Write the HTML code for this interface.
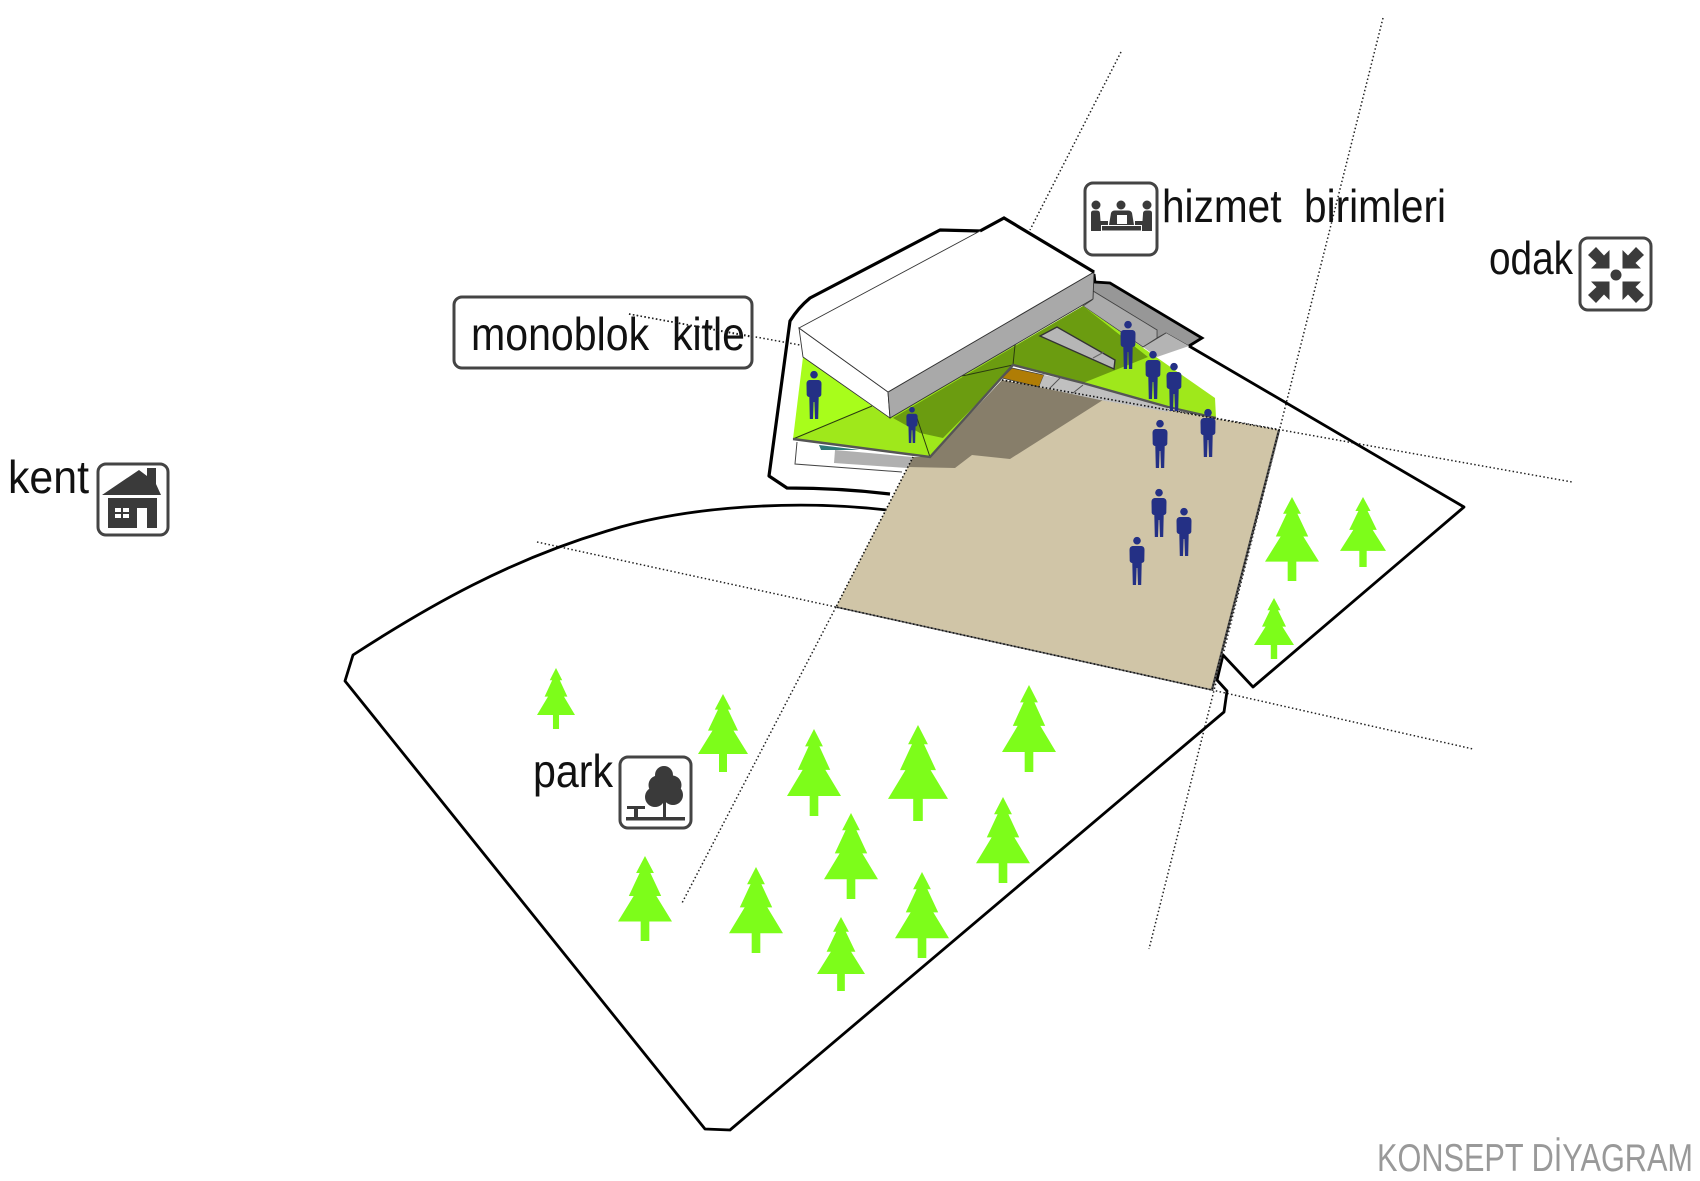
<!DOCTYPE html>
<html lang="tr">
<head>
<meta charset="utf-8">
<title>Konsept Diyagram</title>
<style>
html,body{margin:0;padding:0;background:#fff}
svg{display:block}
text{font-family:"Liberation Sans",sans-serif;fill:#111}
</style>
</head>
<body>
<svg width="1700" height="1181" viewBox="0 0 1700 1181" xmlns="http://www.w3.org/2000/svg">
<defs>
<g id="t"><polygon points="0,0 .33,.2 .2,.2 .6,.47 .42,.47 1,.77 .16,.77 .16,1 -.16,1 -.16,.77 -1,.77 -.42,.47 -.6,.47 -.2,.2 -.33,.2" fill="#7dfd1a"/></g>
<g id="p" fill="#243085">
<circle cx="0" cy="3.7" r="3.8"/>
<path d="M-4.5,9 Q-7.5,9.5 -7.5,13 L-7.3,24 Q-6.5,26 -4.7,26 L-4.2,48 L-1,48 L-.4,31 L.4,31 L1,48 L4.2,48 L4.7,26 Q6.5,26 7.3,24 L7.5,13 Q7.5,9.5 4.5,9 Z"/>
</g>
<path id="ar" fill="#3a3a3a" d="M-6.5,-6.5 L-6.5,-25 L-12,-19.5 L-20,-28 L-28,-20 L-19.5,-12 L-25,-6.5 Z"/>
</defs>

<!-- dotted axes -->
<g fill="none" stroke="#222" stroke-width="1.5" stroke-dasharray="1.5 2.4">
<line x1="1121" y1="52" x2="1030" y2="230"/>
<line x1="1383" y1="18" x2="1149" y2="949"/>
<line x1="629" y1="314" x2="800" y2="345"/>
<line x1="1002" y1="380" x2="1572" y2="482"/>
<line x1="537" y1="542" x2="836" y2="607"/>
<line x1="1212" y1="690" x2="1473" y2="749"/>
<line x1="836" y1="607" x2="682" y2="903"/>
</g>

<!-- site outlines -->
<g fill="none" stroke="#000" stroke-linejoin="round">
<path stroke-width="3.2" d="M980,231 L940,230 L810,298 Q798,308 790,321 L769,476 L787,488 Q840,488 890,494"/>
<path stroke-width="2.8" d="M887,510 C800,500 690,505 607,531 C510,560 430,605 353,655 L345,681 L705,1129 L730,1130 L1224,712 L1227,691 L1217,680 L1223,655 L1253,687 L1464,507 L1189,346"/>
</g>

<!-- under building -->
<polygon points="797,442 795,464 902,472 913,457" fill="#fff"/>
<path d="M797,442 L795,464 L902,472" fill="none" stroke="#444" stroke-width="1"/>
<polygon points="835,450 913,457 907,468 834,463" fill="#b0b0b0"/>
<polygon points="819,445 860,450 821,450" fill="#2f7a78"/>

<!-- terraces -->
<polygon points="1093,282 1110,283 1202,338 1189,346 1166,333 1157,338 1157,330 1093,291" fill="#979797" stroke="#333" stroke-width=".8"/>
<polygon points="1093,291 1157,330 1157,338 1143,347 1083,306 1092,300" fill="#ababab" stroke="#444" stroke-width=".8"/>
<polygon points="1143,347 1166,333 1189,346 1157,357" fill="#b4b4b4"/>
<path d="M1143,347 L1166,333" stroke="#444" stroke-width=".8" fill="none"/>
<path d="M1094,274 L1095,282 L1110,283 L1202,338 L1189,346" fill="none" stroke="#000" stroke-width="2.8"/>

<!-- green floors -->
<polygon points="1083,306 1215,398 1216,418 1168,407 1083,383 1013,365 1002,378 930,457 793,439 872,406 890,418" fill="#9fe81b"/>
<polygon points="803,357 872,406 793,439" fill="#a8fd1b"/>
<polygon points="893,418 1083,306 1148,357 1083,383 1013,365 1002,378 943,438 920,433" fill="#6b9c10"/>
<polygon points="1040,336 1057,327 1115,360 1114,369" fill="#b6b6b6" stroke="#333" stroke-width="1.4"/>
<path d="M1093,358 L1104,352" stroke="#666" stroke-width="1"/>
<g fill="none" stroke="#2a3a10" stroke-width="1">
<path d="M793,439 L872,406"/>
<path d="M917,418 L930,457"/>
<path d="M962,376 L1013,365 L1015,345"/>
</g>

<!-- roof volume -->
<polygon points="799,328 888,392 890,418 803,357" fill="#fff" stroke="#333" stroke-width=".9"/>
<polygon points="888,392 1094,272 1093,299 890,418" fill="#a9a9a9" stroke="#333" stroke-width=".9"/>
<polygon points="799,328 980,231 1004,218 1094,272 888,392" fill="#fff" stroke="#333" stroke-width=".9"/>
<path d="M980,231 L1004,218 L1094,272" fill="none" stroke="#000" stroke-width="3.2"/>

<!-- plaza -->
<polygon points="1002,380 1279,430 1212,690 836,607 913,457 930,457" fill="#d0c5a7"/>
<polygon points="1002,380 1103,400 1010,459 972,455 955,468 908,467 913,457 930,457" fill="#877e6a"/>
<polygon points="1012,368 1044,375 1039,387 1002,378" fill="#b07d05" stroke="#444" stroke-width=".8"/>
<polygon points="1044,375 1083,383 1168,407 1168,412 1100,400 1039,387" fill="#c0c0c0"/>
<path d="M1050,388 L1060,378 M1073,393 L1083,385" stroke="#555" stroke-width="1"/>
<g fill="none" stroke="#555" stroke-width="2.4">
<path d="M793,439 L930,457 L1013,365 L1083,383 L1168,407 L1216,418"/>
<path d="M1279,430 L1212,690"/>
</g>
<path d="M1212,690 L836,607" fill="none" stroke="#666" stroke-width="1.6"/>
<g fill="none" stroke="#111" stroke-width="1.6" stroke-dasharray="1.5 2.2">
<path d="M1002,380 L1279,430 L1212,690 L836,607 L913,457"/>
</g>

<!-- people -->
<use href="#p" transform="translate(1128,321)"/>
<use href="#p" transform="translate(1153,351)"/>
<use href="#p" transform="translate(1174,363)"/>
<use href="#p" transform="translate(814,371)"/>
<use href="#p" transform="translate(912,407) scale(.75)"/>
<use href="#p" transform="translate(1160,420)"/>
<use href="#p" transform="translate(1208,409)"/>
<use href="#p" transform="translate(1159,489)"/>
<use href="#p" transform="translate(1184,508)"/>
<use href="#p" transform="translate(1137,537)"/>

<!-- trees -->
<use href="#t" transform="translate(556,668) scale(19,61)"/>
<use href="#t" transform="translate(723,694) scale(25,78)"/>
<use href="#t" transform="translate(814,729) scale(27,87)"/>
<use href="#t" transform="translate(918,725) scale(30,96)"/>
<use href="#t" transform="translate(1029,685) scale(27,87)"/>
<use href="#t" transform="translate(645,856) scale(27,85)"/>
<use href="#t" transform="translate(756,867) scale(27,86)"/>
<use href="#t" transform="translate(851,813) scale(27,86)"/>
<use href="#t" transform="translate(922,872) scale(27,86)"/>
<use href="#t" transform="translate(1003,797) scale(27,86)"/>
<use href="#t" transform="translate(841,917) scale(24,74)"/>
<use href="#t" transform="translate(1292,497) scale(27,84)"/>
<use href="#t" transform="translate(1363,497) scale(23,70)"/>
<use href="#t" transform="translate(1274,598) scale(20,61)"/>

<!-- label boxes -->
<g fill="none" stroke="#444" stroke-width="3">
<rect x="454" y="297" width="298" height="71" rx="8"/>
<rect x="1085" y="183" width="72" height="72" rx="8" fill="#fff"/>
<rect x="1580" y="238" width="71" height="72" rx="8" fill="#fff"/>
<rect x="98" y="464" width="70" height="71" rx="8" fill="#fff"/>
<rect x="620" y="757" width="71" height="71" rx="8" fill="#fff"/>
</g>

<!-- hizmet icon -->
<g fill="#3a3a3a">
<circle cx="1096" cy="205" r="4.5"/><circle cx="1121" cy="205" r="4.5"/><circle cx="1147" cy="205" r="4.5"/>
<path d="M1091,213 Q1091,210.500 1094,210.500 L1097,210.500 Q1100,210.500 1100,214 L1100.500,221 L1108,221 L1108,225 L1101,225 L1101,231 L1091,231 Z"/>
<path d="M1152,213 Q1152,210.500 1149,210.500 L1146,210.500 Q1143,210.500 1143,214 L1142.500,221 L1135,221 L1135,225 L1142,225 L1142,231 L1152,231 Z"/>
<path d="M1109,225 L1111,213 Q1112,210.500 1115,210.500 L1128,210.500 Q1131,210.500 1132,213 L1134,225 Z"/>
<rect x="1102" y="226" width="39" height="4.500"/>
</g>
<rect x="1117" y="215" width="10" height="9" fill="#fff"/>

<!-- odak icon -->
<circle cx="1616" cy="275" r="5.500" fill="#3a3a3a"/>
<use href="#ar" transform="translate(1616,275)"/>
<use href="#ar" transform="translate(1616,275) rotate(90)"/>
<use href="#ar" transform="translate(1616,275) rotate(180)"/>
<use href="#ar" transform="translate(1616,275) rotate(270)"/>

<!-- kent icon -->
<g fill="#3a3a3a">
<polygon points="102,495 139,470 147,476 147,468 156,468 156,484 161,495"/>
<rect x="108" y="498" width="49" height="30"/>
</g>
<rect x="137" y="508" width="10" height="20" fill="#fff"/>
<g fill="#fff"><rect x="115" y="508" width="6" height="4"/><rect x="123" y="508" width="6" height="4"/><rect x="115" y="514" width="6" height="4"/><rect x="123" y="514" width="6" height="4"/></g>

<!-- park icon -->
<g fill="#3a3a3a">
<circle cx="664" cy="775" r="9"/><circle cx="658" cy="785" r="9.5"/><circle cx="672" cy="785" r="9.5"/>
<circle cx="655" cy="797" r="10"/><circle cx="673" cy="795" r="10"/><circle cx="664" cy="790" r="10"/>
<rect x="663" y="800" width="3" height="18"/>
<rect x="626" y="817" width="59" height="3.5"/>
<rect x="627" y="806" width="18" height="3"/>
<rect x="634" y="809" width="4" height="8"/>
</g>

<!-- labels -->
<text x="471" y="350" font-size="46" textLength="274" lengthAdjust="spacingAndGlyphs" xml:space="preserve">monoblok  kitle</text>
<text x="1162" y="222" font-size="46" textLength="284" lengthAdjust="spacingAndGlyphs" xml:space="preserve">hizmet  birimleri</text>
<text x="1489" y="274" font-size="46" textLength="84" lengthAdjust="spacingAndGlyphs">odak</text>
<text x="8" y="493" font-size="46" textLength="81" lengthAdjust="spacingAndGlyphs">kent</text>
<text x="533" y="787" font-size="46" textLength="80" lengthAdjust="spacingAndGlyphs">park</text>
<text x="1377" y="1171" font-size="39" textLength="316" lengthAdjust="spacingAndGlyphs" style="fill:#999">KONSEPT DİYAGRAM</text>
<path d="M629,314 L752,337" fill="none" stroke="#222" stroke-width="1.5" stroke-dasharray="1.5 2.4"/>
</svg>
</body>
</html>
